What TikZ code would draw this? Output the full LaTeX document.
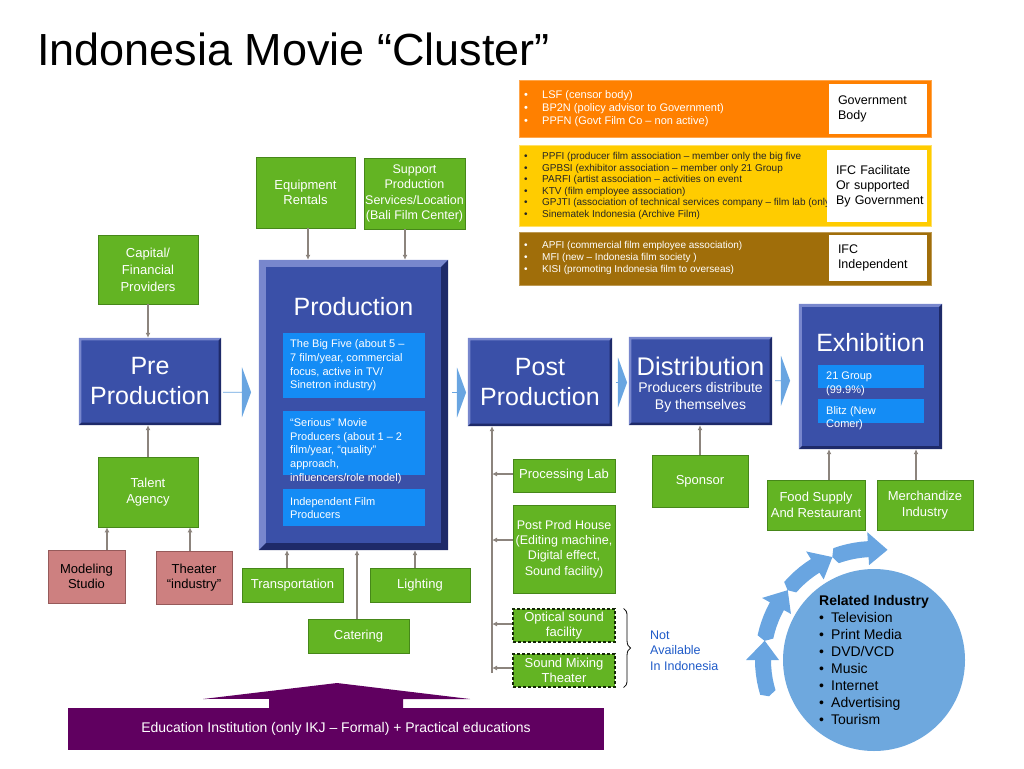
\documentclass[tikz,border=0pt]{standalone}
\usepackage{fontspec}
\setmainfont{Liberation Sans}
\usetikzlibrary{shapes.arrows,decorations.pathreplacing,calc,arrows.meta}
\definecolor{grn}{RGB}{99,180,35}
\definecolor{grnd}{RGB}{70,135,25}
\definecolor{blu}{RGB}{58,80,168}
\definecolor{blulight}{RGB}{120,135,205}
\definecolor{bludark}{RGB}{30,42,105}
\definecolor{subb}{RGB}{20,140,245}
\definecolor{arrb}{RGB}{105,165,225}
\definecolor{circb}{RGB}{110,168,222}
\definecolor{orng}{RGB}{255,128,0}
\definecolor{yell}{RGB}{255,204,0}
\definecolor{brwn}{RGB}{160,110,10}
\definecolor{purp}{RGB}{96,0,96}
\definecolor{pnk}{RGB}{205,128,128}
\definecolor{pnkd}{RGB}{150,90,90}
\definecolor{conncol}{RGB}{140,132,125}
\definecolor{nablue}{RGB}{30,90,200}
\newcommand\fs[2]{\fontsize{#1}{#2}\selectfont}
\newcommand\bl{\makebox[18pt][l]{•}}
\newcommand\bevel[2]{%
 \fill[blulight] (#1.north west) -- (#1.north east) -- ([shift={(-#2,#2)}]#1.north east) -- ([shift={(#2,#2)}]#1.north west) -- ([shift={(#2,-#2)}]#1.south west) -- (#1.south west) -- cycle;
 \fill[bludark] (#1.south east) -- (#1.south west) -- ([shift={(#2,-#2)}]#1.south west) -- ([shift={(-#2,-#2)}]#1.south east) -- ([shift={(-#2,#2)}]#1.north east) -- (#1.north east) -- cycle;}
\begin{document}
\begin{tikzpicture}[x=1pt,y=-1pt,
  box/.style={rectangle, inner sep=1pt, align=center, font=\fs{13}{15.5}, text=white},
  gbox/.style={box, fill=grn, draw=grnd, line width=0.6},
  dbox/.style={box, fill=grn, draw=black!70!grnd, line width=1.1, dash pattern=on 3pt off 2pt},
  pbox/.style={box, fill=pnk, draw=pnkd, line width=0.6, text=black},
  bbox/.style={rectangle, fill=blu, inner sep=0, text=white, align=center, font=\fs{25}{30}},
  sbox/.style={rectangle, fill=subb, inner sep=0},
  stxt/.style={anchor=west, align=left, text=white, inner sep=0, font=\fs{11}{13.6}},
  wbox/.style={rectangle, fill=white, text=black, align=left, inner xsep=9pt, inner ysep=0, font=\fs{12.5}{15}},
  conn/.style={draw=conncol, line width=1.5, -{Latex[length=5pt,width=5pt]}},
  barrow/.style={single arrow, fill=arrb, draw=none, inner sep=0, minimum width=50, single arrow head extend=11, single arrow tip angle=140},
  bul/.style={anchor=west, align=left, inner sep=0}
]
\useasboundingbox (0,0) rectangle (1024,768);

% title
\node[anchor=base west, inner sep=0, font=\fs{45}{50}] (title) at (37,65) {Indonesia Movie “Cluster”};

% institution boxes
\node[rectangle, fill=orng, draw=orng!70!white, minimum width=412, minimum height=57, inner sep=0] (gov) at (725,108.5) {};
\node[bul, text=white, font=\fs{11}{13}] (govt) at (524,109) {\bl LSF (censor body)\\\bl BP2N (policy advisor to Government)\\\bl PPFN (Govt Film Co – non active)};
\node[wbox, text width=80, minimum height=50] (govw) at (878,109) {Government\\Body};

\node[rectangle, fill=yell, draw=yell!60!white, minimum width=412, minimum height=81, inner sep=0] (ifcf) at (725,185.5) {};
\node[bul, text=black!85, font=\fs{10}{11.6}] (ifcft) at (524,186) {\bl PPFI (producer film association – member only the big five\\\bl GPBSI (exhibitor association – member only 21 Group\\\bl PARFI (artist association – activities on event\\\bl KTV (film employee association)\\\bl GPJTI (association of technical services company – film lab (only)\\\bl Sinematek Indonesia (Archive Film)};
\node[wbox, text width=82, minimum height=72] (ifcfw) at (877,186) {\mbox{IFC Facilitate}\\\mbox{Or supported}\\\mbox{By Government}};

\node[rectangle, fill=brwn, draw=brwn!70!white, minimum width=412, minimum height=53, inner sep=0] (ifci) at (725,258.5) {};
\node[bul, text=white, font=\fs{10}{12}] (ifcit) at (524,258) {\bl APFI (commercial film employee association)\\\bl MFI (new – Indonesia film society )\\\bl KISI (promoting Indonesia film to overseas)};
\node[wbox, text width=80, minimum height=46] (ifciw) at (878,258) {IFC\\Independent};

% main stages
\node[bbox, minimum width=142, minimum height=87] (pre) at (150,381.5) {Pre\\Production};
\bevel{pre}{2.5}
\node[bbox, minimum width=189, minimum height=290] (prod) at (353.5,405) {};
\bevel{prod}{7}
\node[text=white, font=\fs{25}{30}, inner sep=0] (prodt) at (353.5,307) {Production};
\node[sbox, minimum width=142, minimum height=65] (big5) at (354,365.5) {};
\node[stxt] (big5t) at (290,365.5) {The Big Five (about 5 –\\7 film/year, commercial\\focus, active in TV/\\Sinetron industry)};
\node[sbox, minimum width=142, minimum height=64] (serious) at (354,443) {};
\node[stxt] (serioust) at (290,451) {“Serious” Movie\\Producers (about 1 – 2\\film/year, “quality”\\approach,\\influencers/role model)};
\node[sbox, minimum width=142, minimum height=37] (indep) at (354,507.5) {};
\node[stxt] (indept) at (290,508) {Independent Film\\Producers};

\node[bbox, minimum width=144, minimum height=88] (post) at (540,382) {Post\\Production};
\bevel{post}{2.5}
\node[bbox, minimum width=143, minimum height=88] (dist) at (700.5,381) {};
\bevel{dist}{2.5}
\node[text=white, font=\fs{25.5}{30}, inner sep=0] (distt) at (700.5,366) {Distribution};
\node[text=white, font=\fs{14}{17}, inner sep=0, align=center] (dists) at (700.5,397.5) {Producers distribute\\By themselves};
\node[bbox, minimum width=143, minimum height=145] (exhib) at (870.5,376.5) {};
\bevel{exhib}{3}
\node[text=white, font=\fs{25}{30}, inner sep=0] (exhibt) at (870.5,343) {Exhibition};
\node[sbox, minimum width=106, minimum height=23] (grp) at (871,376.5) {};
\node[stxt] (grpt) at (826,384) {21 Group\\(99.9\%)};
\node[sbox, minimum width=106, minimum height=24] (blitz) at (871,411) {};
\node[stxt] (blitzt) at (826,418) {Blitz (New\\Comer)};

% block arrows
\node[barrow, minimum height=28] (a1) at ($(pre.east)!0.5!(prod.west)+(-3,-1)$) {};
\node[barrow, minimum height=14] (a2) at ($(prod.east)!0.5!(post.west)+(1,-1)$) {};
\node[barrow, minimum height=11] (a3) at ($(post.east)!0.5!(dist.west)+(1,1)$) {};
\node[barrow, minimum height=15] (a4) at ($(dist.east)!0.5!(exhib.west)+(-3,2)$) {};

% green boxes
\node[gbox, minimum width=99, minimum height=71] (equip) at (305.5,192.5) {Equipment\\Rentals};
\node[gbox, minimum width=101, minimum height=71, font=\fs{12.5}{15.3}] (support) at (414.5,193.5) {Support\\Production\\Services/Location\\(Bali Film Center)};
\node[gbox, minimum width=100, minimum height=69, font=\fs{13}{17}] (capital) at (148,269.5) {Capital/\\Financial\\Providers};
\node[gbox, minimum width=100, minimum height=70, font=\fs{13}{16}] (talent) at (148,492) {Talent\\Agency};
\node[pbox, minimum width=77, minimum height=53] (modeling) at (86.5,576.5) {Modeling\\Studio};
\node[pbox, minimum width=76, minimum height=53] (theater) at (194,577.5) {Theater\\“industry”};
\node[gbox, minimum width=101, minimum height=34] (transport) at (292.5,585) {Transportation};
\node[gbox, minimum width=100, minimum height=34] (lighting) at (420,585) {Lighting};
\node[gbox, minimum width=101, minimum height=34] (catering) at (358.5,636) {Catering};
\node[gbox, minimum width=96, minimum height=52] (sponsor) at (700,481) {Sponsor};
\node[gbox, minimum width=98, minimum height=50] (food) at (816,505) {Food Supply\\And Restaurant};
\node[gbox, minimum width=96, minimum height=50] (merch) at (925,505) {Merchandize\\Industry};
\node[gbox, minimum width=102, minimum height=33] (proclab) at (564,475.5) {Processing Lab};
\node[gbox, minimum width=102, minimum height=88, font=\fs{12.5}{15.3}] (pph) at (564,549) {Post Prod House\\(Editing machine,\\Digital effect,\\Sound facility)};
\node[dbox, minimum width=102, minimum height=33] (optical) at (564,625.5) {Optical sound\\facility};
\node[dbox, minimum width=102, minimum height=33] (mixing) at (564,670.5) {Sound Mixing\\Theater};

% connectors
\draw[conn] ([xshift=2.5]equip.south) -- ([xshift=2.5]equip.south |- prod.north);
\draw[conn] ([xshift=-9.5]support.south) -- ([xshift=-9.5]support.south |- prod.north);
\draw[conn] (capital.south) -- (capital.south |- pre.north);
\draw[conn] (talent.north) -- (talent.north |- pre.south);
\draw[conn] ([xshift=20.5]modeling.north) -- ([xshift=20.5]modeling.north |- talent.south);
\draw[conn] ([xshift=-4]theater.north) -- ([xshift=-4]theater.north |- talent.south);
\draw[conn] ([xshift=-5.5]transport.north) -- ([xshift=-5.5]transport.north |- prod.south);
\draw[conn] ([xshift=-5]lighting.north) -- ([xshift=-5]lighting.north |- prod.south);
\draw[conn] ([xshift=-1.5]catering.north) -- ([xshift=-1.5]catering.north |- prod.south);
\draw[conn] (sponsor.north) -- (sponsor.north |- dist.south);
\draw[conn] ([xshift=13]food.north) -- ([xshift=13]food.north |- exhib.south);
\draw[conn] ([xshift=-9]merch.north) -- ([xshift=-9]merch.north |- exhib.south);
\coordinate (pbot) at (492,673);
\draw[conn] (pbot) -- (pbot |- post.south);
\draw[conn] ([yshift=1.5]proclab.west) -- ([yshift=1.5]proclab.west -| pbot);
\draw[conn] ([yshift=9]pph.west) -- ([yshift=9]pph.west -| pbot);
\draw[conn] ([yshift=1.5]optical.west) -- ([yshift=1.5]optical.west -| pbot);
\draw[conn] ([yshift=2.5]mixing.west) -- ([yshift=2.5]mixing.west -| pbot);

% brace and note
\draw[line width=0.8, decorate, decoration={brace, amplitude=7pt}] ([xshift=8]optical.north east) -- ([xshift=8]mixing.south east);
\node[anchor=west, align=left, inner sep=0, text=nablue, font=\fs{12.5}{15.5}] (na) at (650,650.5) {Not\\Available\\In Indonesia};

% education
\node[rectangle, fill=purp, minimum width=536, minimum height=42, inner sep=0, text=white, font=\fs{14}{17}] (edu) at (336,729) {Education Institution (only IKJ – Formal) + Practical educations};
\fill[purp] ([xshift=-67]edu.north) -- ++(0,-9) -- (203,699) -- (337,683) -- (470,699) -- (403,699) -- ([xshift=67]edu.north) -- cycle;

% related industry
\node[circle, fill=circb, minimum size=182, inner sep=0, align=left, font=\fs{14}{17}] (rel) at (874,660) {\textbf{Related Industry}\\\makebox[12pt][l]{•}Television\\\makebox[12pt][l]{•}Print Media\\\makebox[12pt][l]{•}DVD/VCD\\\makebox[12pt][l]{•}Music\\\makebox[12pt][l]{•}Internet\\\makebox[12pt][l]{•}Advertising\\\makebox[12pt][l]{•}Tourism};
\begin{scope}[shift={(rel.center)}]
\foreach \a in {163,192,221,250}{
  \pgfmathsetmacro\b{\a+27}
  \pgfmathsetmacro\h{\b-10}
  \fill[arrb] plot[domain=\a:\h, samples=6] (\x:103) -- (\h:95) -- (\b:111) -- (\h:128) -- plot[domain=\h:\a, samples=6] (\x:119) -- ($(\a:111)+({\a+90}:-4)$) -- cycle;
}
\end{scope}
\end{tikzpicture}
\end{document}
